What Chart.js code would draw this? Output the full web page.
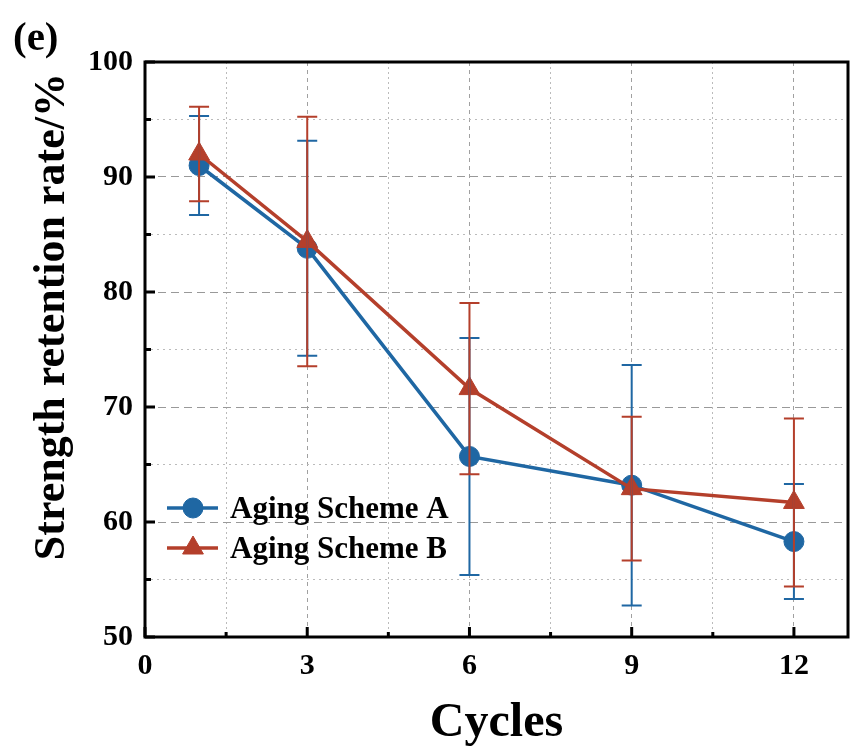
<!DOCTYPE html>
<html>
<head>
<meta charset="utf-8">
<script src="https://cdn.jsdelivr.net/npm/chart.js@4/dist/chart.umd.min.js"></script>
<style>
  body { margin: 0; background: #fff; }
  #wrap { width: 861px; height: 752px; }
</style>
</head>
<body>
<div id="wrap"><canvas id="c"></canvas></div>
<script>
// datos
const cycles = [1, 3, 6, 9, 12];
const schemeA = [91.0, 83.8, 65.7, 63.2, 58.3];
const schemeB = [92.0, 84.4, 71.6, 62.9, 61.7];
const errA = [4.3, 9.35, 10.3, 10.45, 5.0];
const errB = [4.1, 10.85, 7.45, 6.25, 7.3];

// ticks de los ejes
const xMajor = [0, 3, 6, 9, 12];
const xMinor = [1.5, 4.5, 7.5, 10.5];
const yMajor = [50, 60, 70, 80, 90, 100];
const yMinor = [55, 65, 75, 85, 95];

const serif = "'Liberation Serif', 'Times New Roman', serif";
const blue = '#1f67a3';
const red = '#b43f2b';

// barras de error, marco, ticks hacia dentro, leyenda y etiqueta (e)
const decor = {
  id: 'decor',
  afterDatasetsDraw(chart) {
    const ctx = chart.ctx, xs = chart.scales.x, ys = chart.scales.y;
    const sets = [[schemeA, errA, blue], [schemeB, errB, red]];
    ctx.save();
    ctx.lineWidth = 2;
    sets.forEach(([vals, errs, col]) => {
      ctx.strokeStyle = col;
      cycles.forEach((c, i) => {
        const px = xs.getPixelForValue(c);
        const top = ys.getPixelForValue(vals[i] + errs[i]);
        const bot = ys.getPixelForValue(vals[i] - errs[i]);
        ctx.beginPath();
        ctx.moveTo(px, top); ctx.lineTo(px, bot);
        ctx.moveTo(px - 10, top); ctx.lineTo(px + 10, top);
        ctx.moveTo(px - 10, bot); ctx.lineTo(px + 10, bot);
        ctx.stroke();
      });
    });
    ctx.restore();
  },
  afterDraw(chart) {
    const ctx = chart.ctx, a = chart.chartArea, xs = chart.scales.x, ys = chart.scales.y;
    ctx.save();
    ctx.strokeStyle = '#000';
    ctx.lineWidth = 3;
    ctx.strokeRect(a.left, a.top, a.right - a.left, a.bottom - a.top);

    ctx.beginPath();
    xMajor.forEach(v => { const p = xs.getPixelForValue(v); ctx.moveTo(p, a.bottom); ctx.lineTo(p, a.bottom - 10); });
    xMinor.forEach(v => { const p = xs.getPixelForValue(v); ctx.moveTo(p, a.bottom); ctx.lineTo(p, a.bottom - 5); });
    yMajor.forEach(v => { const p = ys.getPixelForValue(v); ctx.moveTo(a.left, p); ctx.lineTo(a.left + 10, p); });
    yMinor.forEach(v => { const p = ys.getPixelForValue(v); ctx.moveTo(a.left, p); ctx.lineTo(a.left + 6, p); });
    ctx.stroke();

    // leyenda
    const items = [
      { text: 'Aging Scheme A', color: blue, style: 'circle', r: 10, y: 508 },
      { text: 'Aging Scheme B', color: red, style: 'triangle', r: 12, y: 548 }
    ];
    const lx = a.left + 22;
    items.forEach(it => {
      ctx.strokeStyle = it.color;
      ctx.fillStyle = it.color;
      ctx.lineWidth = 3.5;
      ctx.beginPath();
      ctx.moveTo(lx, it.y); ctx.lineTo(lx + 51, it.y);
      ctx.stroke();
      ctx.lineWidth = 1;
      Chart.helpers.drawPoint(ctx, { pointStyle: it.style, radius: it.r, rotation: 0, borderWidth: 1 }, lx + 26, it.y);
      ctx.fillStyle = '#000';
      ctx.font = 'bold 31px ' + serif;
      ctx.textAlign = 'left';
      ctx.textBaseline = 'alphabetic';
      ctx.fillText(it.text, lx + 63, it.y + 10);
    });

    ctx.font = 'bold 41px ' + serif;
    ctx.fillStyle = '#000';
    ctx.textAlign = 'left';
    ctx.textBaseline = 'alphabetic';
    ctx.fillText('(e)', 13, 50);
    ctx.restore();
  }
};

const tickFont = { family: serif, size: 30, weight: 'bold' };

new Chart(document.getElementById('c'), {
  type: 'line',
  data: {
    datasets: [
      {
        label: 'Aging Scheme A',
        data: cycles.map((c, i) => ({ x: c, y: schemeA[i] })),
        borderColor: blue, backgroundColor: blue,
        borderWidth: 3.5, pointStyle: 'circle', pointRadius: 10,
        pointBorderWidth: 1, order: 2
      },
      {
        label: 'Aging Scheme B',
        data: cycles.map((c, i) => ({ x: c, y: schemeB[i] })),
        borderColor: red, backgroundColor: red,
        borderWidth: 3.5, pointStyle: 'triangle', pointRadius: 12,
        pointBorderWidth: 1, order: 1
      }
    ]
  },
  options: {
    responsive: true,
    maintainAspectRatio: false,
    animation: false,
    devicePixelRatio: 1,
    layout: { padding: { top: 62, right: 7, bottom: 0, left: 0 } },
    plugins: { legend: { display: false }, tooltip: { enabled: false } },
    scales: {
      x: {
        type: 'linear', min: 0, max: 13, position: 'bottom',
        afterBuildTicks: s => { s.ticks = xMajor.map(v => ({ value: v })); },
        afterFit: s => { s.height = 115; },
        grid: { color: '#a0a0a0', lineWidth: 1, drawTicks: false },
        border: { display: false, dash: [4, 4] },
        ticks: { font: tickFont, color: '#000', padding: 11, maxRotation: 0, autoSkip: false },
        title: { display: true, text: 'Cycles', color: '#000',
                 font: { family: serif, size: 48, weight: 'bold' }, padding: { top: 0, bottom: 0 } }
      },
      xMin: {
        type: 'linear', min: 0, max: 13, position: 'bottom',
        afterBuildTicks: s => { s.ticks = xMinor.map(v => ({ value: v })); },
        afterFit: s => { s.height = 0; },
        grid: { color: '#bbbbbb', lineWidth: 1, drawTicks: false },
        border: { display: false, dash: [2, 3] },
        ticks: { display: false }
      },
      y: {
        type: 'linear', min: 50, max: 100, position: 'left',
        afterBuildTicks: s => { s.ticks = yMajor.map(v => ({ value: v })); },
        afterFit: s => { s.width = 145; },
        grid: { color: '#999999', lineWidth: 1, drawTicks: false },
        border: { display: false, dash: [8, 5] },
        ticks: { font: tickFont, color: '#000', padding: 12, autoSkip: false },
        title: { display: true, text: 'Strength retention rate/% ', align: 'end', color: '#000',
                 font: { family: serif, size: 44, weight: 'bold' }, padding: { top: 26, bottom: 0 } }
      },
      yMin: {
        type: 'linear', min: 50, max: 100, position: 'left',
        afterBuildTicks: s => { s.ticks = yMinor.map(v => ({ value: v })); },
        afterFit: s => { s.width = 0; },
        grid: { color: '#bbbbbb', lineWidth: 1, drawTicks: false },
        border: { display: false, dash: [2, 4] },
        ticks: { display: false }
      }
    }
  },
  plugins: [decor]
});
</script>
</body>
</html>
